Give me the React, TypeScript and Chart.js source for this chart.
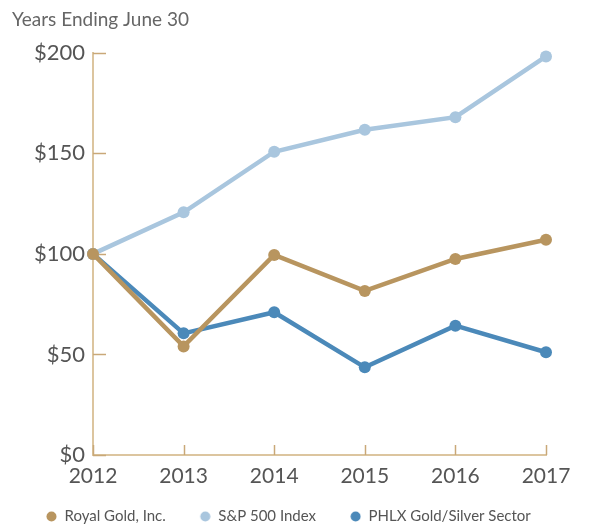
import React, { useEffect, useRef } from "react";
import { Chart, registerables } from "chart.js";

Chart.register(...registerables);

const years = ["2012", "2013", "2014", "2015", "2016", "2017"];
const royalGold = [100, 54, 99.5, 81.6, 97.5, 107];
const sp500 = [100, 120.7, 150.8, 161.7, 168, 198.2];
const phlx = [100, 60.5, 71, 43.6, 64.3, 51.1];
const yTicks = [0, 50, 100, 150, 200];
const seriesNames = ["Royal Gold, Inc.", "S&P 500 Index", "PHLX Gold/Silver Sector"];
const titleText = "Years Ending June 30";

const GOLD = "#b8955f";
const LIGHT = "#a9c6de";
const BLUE = "#4b89b9";
const AXIS = "#dcc59f";
const TICK = "#c9a878";
const TEXT = "#555555";
const FONT = "Lato";
const MARK_W = 35;

function makeMark(color: string) {
  const c = document.createElement("canvas");
  c.width = MARK_W;
  c.height = 11;
  const g = c.getContext("2d")!;
  g.fillStyle = color;
  g.beginPath();
  g.arc(MARK_W - 5.5, 5.5, 5, 0, Math.PI * 2);
  g.fill();
  return c;
}

const innerTicks = {
  id: "innerTicks",
  beforeDatasetsDraw(chart: any) {
    const { ctx, chartArea, scales } = chart;
    const x = scales.x;
    const y = scales.y;
    ctx.save();
    ctx.strokeStyle = TICK;
    ctx.lineWidth = 1.5;
    y.ticks.forEach((_t: any, i: number) => {
      const py = Math.round(y.getPixelForTick(i)) + 0.5;
      ctx.beginPath();
      ctx.moveTo(chartArea.left, py);
      ctx.lineTo(chartArea.left + 13, py);
      ctx.stroke();
    });
    x.ticks.forEach((_t: any, i: number) => {
      const px = Math.round(x.getPixelForTick(i)) + 0.5;
      ctx.beginPath();
      ctx.moveTo(px, chartArea.bottom);
      ctx.lineTo(px, chartArea.bottom - 10);
      ctx.stroke();
    });
    ctx.restore();
  },
};

export default function App() {
  const ref = useRef<HTMLCanvasElement>(null);
  useEffect(() => {
    if (!ref.current) return;
    const colors = [GOLD, LIGHT, BLUE];
    const marks = colors.map(makeMark);
    const mk = (label: string, data: number[], color: string) => ({
      label,
      data,
      borderColor: color,
      backgroundColor: color,
      pointBackgroundColor: color,
      pointBorderColor: color,
      borderWidth: 4.5,
      pointRadius: 6,
      pointBorderWidth: 0,
      tension: 0,
      clip: false,
      yAxisID: "y",
    });
    const chart = new Chart(ref.current, {
      type: "line",
      data: {
        labels: years,
        datasets: [
          mk(seriesNames[0], royalGold, GOLD),
          mk(seriesNames[1], sp500, LIGHT),
          mk(seriesNames[2], phlx, BLUE),
        ],
      },
      options: {
        animation: false,
        responsive: true,
        maintainAspectRatio: false,
        layout: { padding: { left: 12, right: 0, top: 0, bottom: 0 } },
        plugins: {
          tooltip: { enabled: false },
          title: {
            display: true,
            text: titleText,
            align: "start",
            color: "#666666",
            font: { family: FONT, size: 19, weight: "normal" },
            padding: { top: 8, bottom: 22 },
          },
          legend: {
            position: "bottom",
            align: "start",
            maxHeight: 28,
            labels: {
              usePointStyle: true,
              pointStyleWidth: MARK_W,
              boxHeight: 11,
              padding: 10,
              color: TEXT,
              font: { family: FONT, size: 15 },
              generateLabels: (ch: any) =>
                ch.data.datasets.map((ds: any, i: number) => ({
                  text: ds.label,
                  fillStyle: colors[i],
                  strokeStyle: colors[i],
                  lineWidth: 0,
                  pointStyle: marks[i],
                  hidden: false,
                  datasetIndex: i,
                  fontColor: TEXT,
                })),
            },
          },
        },
        scales: {
          x: {
            type: "category",
            offset: false,
            grid: { display: true, drawOnChartArea: false, drawTicks: false },
            border: { display: true, color: AXIS, width: 2 },
            ticks: {
              color: TEXT,
              padding: 9,
              maxRotation: 0,
              font: { family: FONT, size: 21 },
            },
            afterFit(scale: any) {
              scale.height = 44;
            },
          },
          y: {
            min: 0,
            max: 200,
            afterBuildTicks(scale: any) {
              scale.ticks = yTicks.map((v) => ({ value: v }));
            },
            grid: { display: true, drawOnChartArea: false, drawTicks: false },
            border: { display: true, color: AXIS, width: 2 },
            ticks: {
              color: TEXT,
              padding: 8,
              font: { family: FONT, size: 22 },
              callback: (v: any) => "$" + v,
            },
            afterFit(scale: any) {
              scale.width = 81;
            },
          },
          yRight: {
            type: "linear",
            position: "right",
            display: true,
            grid: { display: false, drawTicks: false },
            border: { display: false },
            ticks: { display: false },
            afterFit(scale: any) {
              scale.width = 44;
            },
          },
        },
      },
      plugins: [innerTicks],
    });
    return () => chart.destroy();
  }, []);
  return (
    <div style={{ position: "absolute", left: 0, top: 0, width: 590, height: 527 }}>
      <canvas ref={ref} />
    </div>
  );
}
